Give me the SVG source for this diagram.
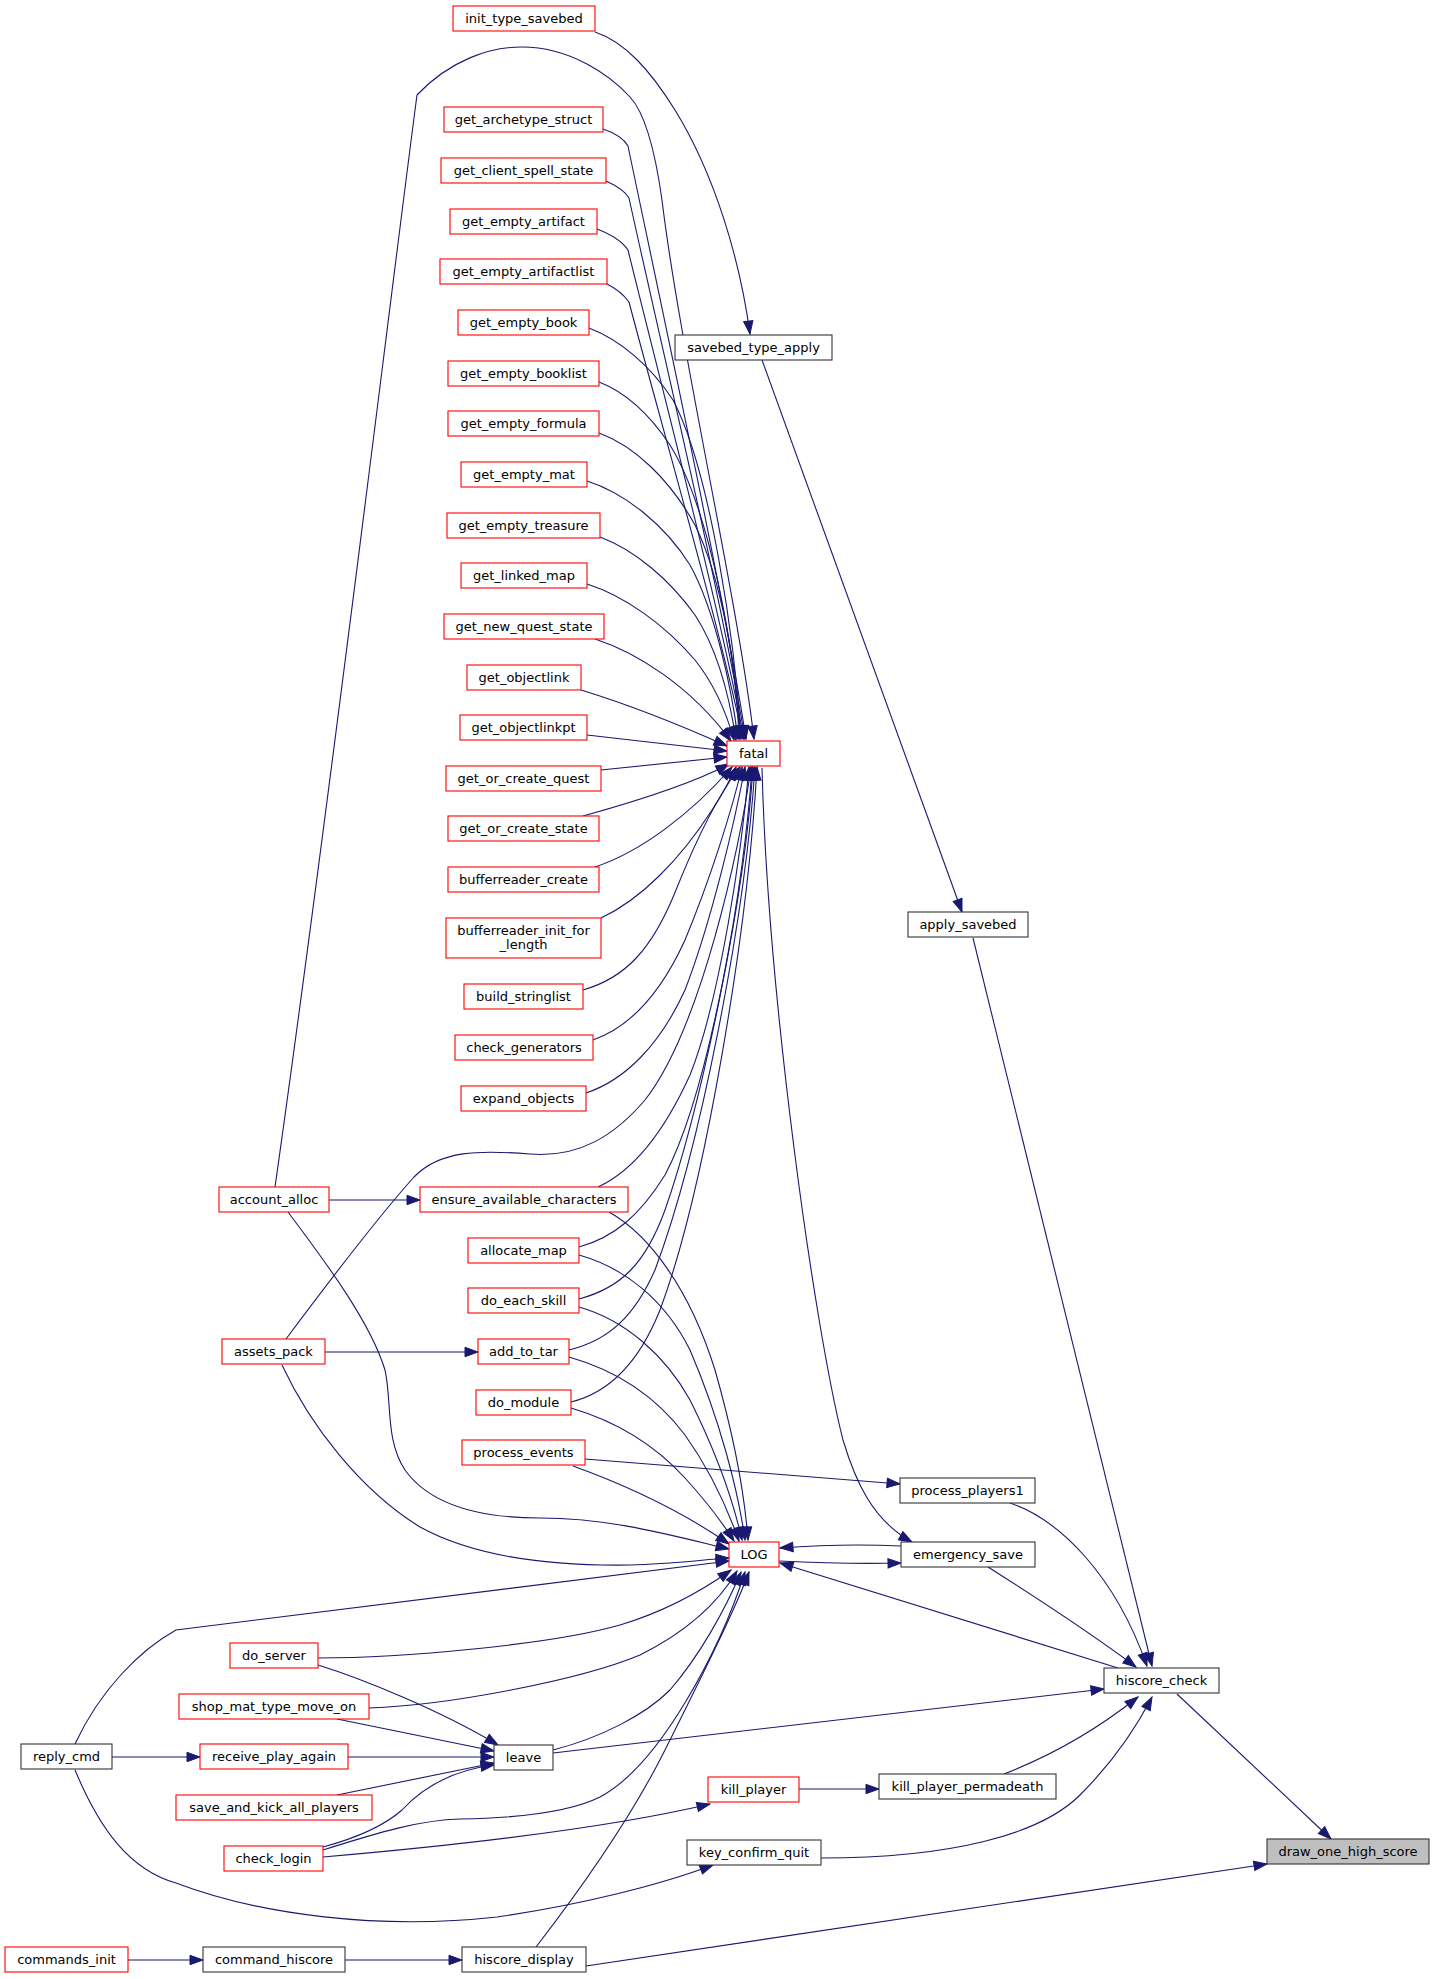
<svg xmlns="http://www.w3.org/2000/svg" width="1435" height="1979" viewBox="0 0 1435 1979">
<style>
.nd rect{fill:#ffffff;stroke:#333333;stroke-width:1.1}
.nd.r rect{stroke:#ff0000}
.nd.g rect{fill:#bfbfbf}
.nd text{font-family:"DejaVu Sans","Liberation Sans",sans-serif;font-size:13px;fill:#000000;text-anchor:middle}
#edges path{fill:none;stroke:#191970;stroke-width:1.1;marker-end:url(#a)}
</style>
<defs>
<marker id="a" markerUnits="userSpaceOnUse" markerWidth="16" markerHeight="12" refX="13" refY="4.7" orient="auto" overflow="visible">
<path d="M0,0 L13,4.7 L0,9.4 z" fill="#191970" stroke="#191970" stroke-width="1"/>
</marker>
</defs>
<rect width="1435" height="1979" fill="#ffffff"/>
<g id="edges">
<path d="M1177,1694 L1331,1839"/>
<path d="M586,1966 L1267,1864"/>
<path d="M595,32 C625,42 650,70 675,110 C715,175 740,260 750,334"/>
<path d="M762,360 L962,912"/>
<path d="M973,938 L1152,1666"/>
<path d="M1010,1503 C1060,1520 1115,1575 1147,1666"/>
<path d="M988,1567 C1040,1600 1100,1640 1136,1667"/>
<path d="M553,1753 L1104,1689"/>
<path d="M1004,1774 C1040,1760 1090,1735 1138,1697"/>
<path d="M821,1858 C950,1858 1040,1835 1080,1795 C1110,1765 1135,1730 1152,1697"/>
<path d="M1118,1668 L780,1563"/>
<path d="M901,1546 C860,1544 820,1545 780,1548"/>
<path d="M779,1561 C820,1563 860,1564 901,1563"/>
<path d="M762,768 C768,1000 815,1330 843,1440 C855,1480 872,1520 912,1542"/>
<path d="M585,1459 L900,1484"/>
<path d="M799,1789 L879,1789"/>
<path d="M323,1857 C450,1846 600,1830 710,1804"/>
<path d="M75,1770 C100,1830 130,1870 176,1883 C260,1915 380,1930 497,1917 C580,1905 660,1885 713,1865"/>
<path d="M112,1757 L200,1757"/>
<path d="M348,1757 L494,1757"/>
<path d="M318,1665 C360,1678 440,1710 498,1745"/>
<path d="M337,1719 L494,1751"/>
<path d="M337,1795 L494,1763"/>
<path d="M323,1847 C360,1837 385,1825 402,1810 C425,1785 455,1770 494,1765"/>
<path d="M128,1960 L203,1960"/>
<path d="M345,1960 L462,1960"/>
<path d="M329,1200 L420,1200"/>
<path d="M325,1352 L478,1352"/>
<path d="M603,129 C615,133 624,139 628,146 C660,300 725,600 746,739"/>
<path d="M606,181 C617,186 625,191 629,198 C660,340 722,600 745,739"/>
<path d="M597,229 C610,234 622,241 628,250 C660,380 720,610 744,739"/>
<path d="M607,284 C617,289 624,295 629,302 C660,420 718,620 743,739"/>
<path d="M589,328 C620,340 650,365 673,400 C710,470 735,640 741,739"/>
<path d="M599,382 C625,392 650,415 670,445 C710,510 735,650 740,739"/>
<path d="M599,433 C635,446 670,480 695,525 C722,580 737,670 739,739"/>
<path d="M587,481 C625,493 665,525 690,565 C715,610 732,690 738,739"/>
<path d="M600,537 C635,550 670,580 695,615 C718,650 730,700 736,740"/>
<path d="M587,584 C625,596 665,625 695,660 C715,685 727,715 734,740"/>
<path d="M595,639 C635,652 690,685 731,741"/>
<path d="M581,690 C630,705 680,725 727,746"/>
<path d="M587,735 L727,751"/>
<path d="M601,770 L727,757"/>
<path d="M583,816 C630,803 690,785 729,764"/>
<path d="M595,867 C640,852 690,815 732,767"/>
<path d="M601,918 C640,900 680,860 712,810 C722,795 730,780 736,767"/>
<path d="M583,990 C625,978 652,950 676,890 C700,830 722,790 740,767"/>
<path d="M593,1040 C630,1027 660,995 685,940 C710,880 732,810 742,767"/>
<path d="M586,1093 C625,1080 660,1045 685,990 C712,920 735,820 745,767"/>
<path d="M598,1187 C635,1170 665,1130 690,1075 C720,1000 742,850 749,767"/>
<path d="M286,1339 C330,1280 380,1215 414,1177 C440,1150 480,1150 530,1154 C580,1158 615,1135 645,1100 C700,1030 740,850 751,767"/>
<path d="M579,1247 C615,1237 640,1215 665,1175 C710,1090 745,880 752,767"/>
<path d="M579,1299 C620,1288 645,1265 665,1210 C700,1110 745,900 753,767"/>
<path d="M569,1350 C610,1340 635,1315 655,1270 C700,1150 745,920 755,767"/>
<path d="M571,1402 C612,1392 640,1360 660,1310 C705,1190 748,930 757,767"/>
<path d="M275,1187 C330,800 390,300 417,95 C450,60 490,47 522,47 C570,47 610,75 630,97 C645,113 655,150 662,200 C680,350 738,600 754,739"/>
<path d="M609,1212 C650,1235 690,1290 715,1370 C735,1440 745,1500 748,1540"/>
<path d="M579,1255 C625,1268 665,1300 690,1350 C720,1420 738,1490 745,1540"/>
<path d="M579,1307 C625,1320 665,1355 690,1400 C715,1450 733,1500 742,1540"/>
<path d="M569,1357 C615,1370 655,1395 685,1435 C710,1470 728,1510 739,1541"/>
<path d="M571,1408 C615,1421 655,1445 685,1478 C705,1500 722,1522 734,1541"/>
<path d="M573,1466 C620,1483 680,1510 729,1544"/>
<path d="M288,1212 C320,1255 370,1320 385,1370 C392,1400 385,1440 405,1470 C430,1505 480,1518 540,1518 C610,1518 670,1535 729,1549"/>
<path d="M282,1365 C310,1425 360,1490 420,1527 C480,1560 560,1566 630,1565 C670,1564 700,1560 729,1558"/>
<path d="M75,1744 C100,1690 140,1650 176,1630 L729,1561"/>
<path d="M318,1658 C400,1658 550,1645 620,1625 C670,1610 710,1585 731,1570"/>
<path d="M369,1708 C450,1705 580,1680 640,1655 C690,1630 720,1600 737,1571"/>
<path d="M553,1750 C600,1738 645,1715 670,1690 C700,1655 725,1610 741,1572"/>
<path d="M323,1850 C380,1832 420,1820 460,1819 C520,1818 570,1812 600,1797 C660,1765 720,1650 745,1572"/>
<path d="M536,1947 C580,1890 630,1820 665,1750 C700,1680 735,1610 749,1572"/>
</g>
<g id="init_type_savebed" class="nd r"><rect x="453" y="6" width="142" height="25"/><text x="524" y="23">init_type_savebed</text></g>
<g id="get_archetype_struct" class="nd r"><rect x="444" y="107" width="159" height="25"/><text x="523.5" y="124">get_archetype_struct</text></g>
<g id="get_client_spell_state" class="nd r"><rect x="441" y="158" width="165" height="25"/><text x="523.5" y="175">get_client_spell_state</text></g>
<g id="get_empty_artifact" class="nd r"><rect x="450" y="209" width="147" height="25"/><text x="523.5" y="226">get_empty_artifact</text></g>
<g id="get_empty_artifactlist" class="nd r"><rect x="440" y="259" width="167" height="25"/><text x="523.5" y="276">get_empty_artifactlist</text></g>
<g id="get_empty_book" class="nd r"><rect x="458" y="310" width="131" height="25"/><text x="523.5" y="327">get_empty_book</text></g>
<g id="get_empty_booklist" class="nd r"><rect x="448" y="361" width="151" height="25"/><text x="523.5" y="378">get_empty_booklist</text></g>
<g id="get_empty_formula" class="nd r"><rect x="448" y="411" width="151" height="25"/><text x="523.5" y="428">get_empty_formula</text></g>
<g id="get_empty_mat" class="nd r"><rect x="461" y="462" width="126" height="25"/><text x="524" y="479">get_empty_mat</text></g>
<g id="get_empty_treasure" class="nd r"><rect x="447" y="513" width="153" height="25"/><text x="523.5" y="530">get_empty_treasure</text></g>
<g id="get_linked_map" class="nd r"><rect x="461" y="563" width="126" height="25"/><text x="524" y="580">get_linked_map</text></g>
<g id="get_new_quest_state" class="nd r"><rect x="444" y="614" width="160" height="25"/><text x="524" y="631">get_new_quest_state</text></g>
<g id="get_objectlink" class="nd r"><rect x="467" y="665" width="114" height="25"/><text x="524" y="682">get_objectlink</text></g>
<g id="get_objectlinkpt" class="nd r"><rect x="460" y="715" width="127" height="25"/><text x="523.5" y="732">get_objectlinkpt</text></g>
<g id="get_or_create_quest" class="nd r"><rect x="446" y="766" width="155" height="25"/><text x="523.5" y="783">get_or_create_quest</text></g>
<g id="get_or_create_state" class="nd r"><rect x="448" y="816" width="151" height="25"/><text x="523.5" y="833">get_or_create_state</text></g>
<g id="bufferreader_create" class="nd r"><rect x="448" y="867" width="151" height="25"/><text x="523.5" y="884">bufferreader_create</text></g>
<g id="bufferreader_init_for_length" class="nd r"><rect x="446" y="918" width="155" height="40"/><text x="523.5" y="935">bufferreader_init_for</text><text x="523.5" y="949">_length</text></g>
<g id="build_stringlist" class="nd r"><rect x="464" y="984" width="119" height="25"/><text x="523.5" y="1001">build_stringlist</text></g>
<g id="check_generators" class="nd r"><rect x="455" y="1035" width="138" height="25"/><text x="524" y="1052">check_generators</text></g>
<g id="expand_objects" class="nd r"><rect x="461" y="1086" width="125" height="25"/><text x="523.5" y="1103">expand_objects</text></g>
<g id="ensure_available_characters" class="nd r"><rect x="420" y="1187" width="208" height="25"/><text x="524" y="1204">ensure_available_characters</text></g>
<g id="allocate_map" class="nd r"><rect x="468" y="1238" width="111" height="25"/><text x="523.5" y="1255">allocate_map</text></g>
<g id="do_each_skill" class="nd r"><rect x="468" y="1288" width="111" height="25"/><text x="523.5" y="1305">do_each_skill</text></g>
<g id="add_to_tar" class="nd r"><rect x="478" y="1339" width="91" height="25"/><text x="523.5" y="1356">add_to_tar</text></g>
<g id="do_module" class="nd r"><rect x="476" y="1390" width="95" height="25"/><text x="523.5" y="1407">do_module</text></g>
<g id="process_events" class="nd r"><rect x="462" y="1440" width="123" height="25"/><text x="523.5" y="1457">process_events</text></g>
<g id="account_alloc" class="nd r"><rect x="219" y="1187" width="110" height="25"/><text x="274" y="1204">account_alloc</text></g>
<g id="assets_pack" class="nd r"><rect x="222" y="1339" width="103" height="25"/><text x="273.5" y="1356">assets_pack</text></g>
<g id="do_server" class="nd r"><rect x="230" y="1643" width="88" height="25"/><text x="274" y="1660">do_server</text></g>
<g id="shop_mat_type_move_on" class="nd r"><rect x="179" y="1694" width="190" height="25"/><text x="274" y="1711">shop_mat_type_move_on</text></g>
<g id="receive_play_again" class="nd r"><rect x="200" y="1744" width="148" height="25"/><text x="274" y="1761">receive_play_again</text></g>
<g id="save_and_kick_all_players" class="nd r"><rect x="176" y="1795" width="196" height="25"/><text x="274" y="1812">save_and_kick_all_players</text></g>
<g id="check_login" class="nd r"><rect x="224" y="1846" width="99" height="25"/><text x="273.5" y="1863">check_login</text></g>
<g id="commands_init" class="nd r"><rect x="5" y="1947" width="123" height="25"/><text x="66.5" y="1964">commands_init</text></g>
<g id="reply_cmd" class="nd"><rect x="21" y="1744" width="91" height="25"/><text x="66.5" y="1761">reply_cmd</text></g>
<g id="command_hiscore" class="nd"><rect x="203" y="1947" width="142" height="25"/><text x="274" y="1964">command_hiscore</text></g>
<g id="hiscore_display" class="nd"><rect x="462" y="1947" width="124" height="25"/><text x="524" y="1964">hiscore_display</text></g>
<g id="leave" class="nd"><rect x="494" y="1745" width="59" height="25"/><text x="523.5" y="1762">leave</text></g>
<g id="kill_player" class="nd r"><rect x="708" y="1777" width="91" height="25"/><text x="753.5" y="1794">kill_player</text></g>
<g id="key_confirm_quit" class="nd"><rect x="687" y="1840" width="134" height="25"/><text x="754" y="1857">key_confirm_quit</text></g>
<g id="savebed_type_apply" class="nd"><rect x="675" y="335" width="157" height="25"/><text x="753.5" y="352">savebed_type_apply</text></g>
<g id="fatal" class="nd r"><rect x="727" y="741" width="53" height="25"/><text x="753.5" y="758">fatal</text></g>
<g id="LOG" class="nd r"><rect x="729" y="1542" width="50" height="25"/><text x="754" y="1559">LOG</text></g>
<g id="apply_savebed" class="nd"><rect x="908" y="912" width="120" height="25"/><text x="968" y="929">apply_savebed</text></g>
<g id="process_players1" class="nd"><rect x="900" y="1478" width="135" height="25"/><text x="967.5" y="1495">process_players1</text></g>
<g id="emergency_save" class="nd"><rect x="901" y="1542" width="134" height="25"/><text x="968" y="1559">emergency_save</text></g>
<g id="kill_player_permadeath" class="nd"><rect x="879" y="1774" width="177" height="25"/><text x="967.5" y="1791">kill_player_permadeath</text></g>
<g id="hiscore_check" class="nd"><rect x="1104" y="1668" width="115" height="25"/><text x="1161.5" y="1685">hiscore_check</text></g>
<g id="draw_one_high_score" class="nd g"><rect x="1267" y="1839" width="162" height="25"/><text x="1348" y="1856">draw_one_high_score</text></g>
</svg>
